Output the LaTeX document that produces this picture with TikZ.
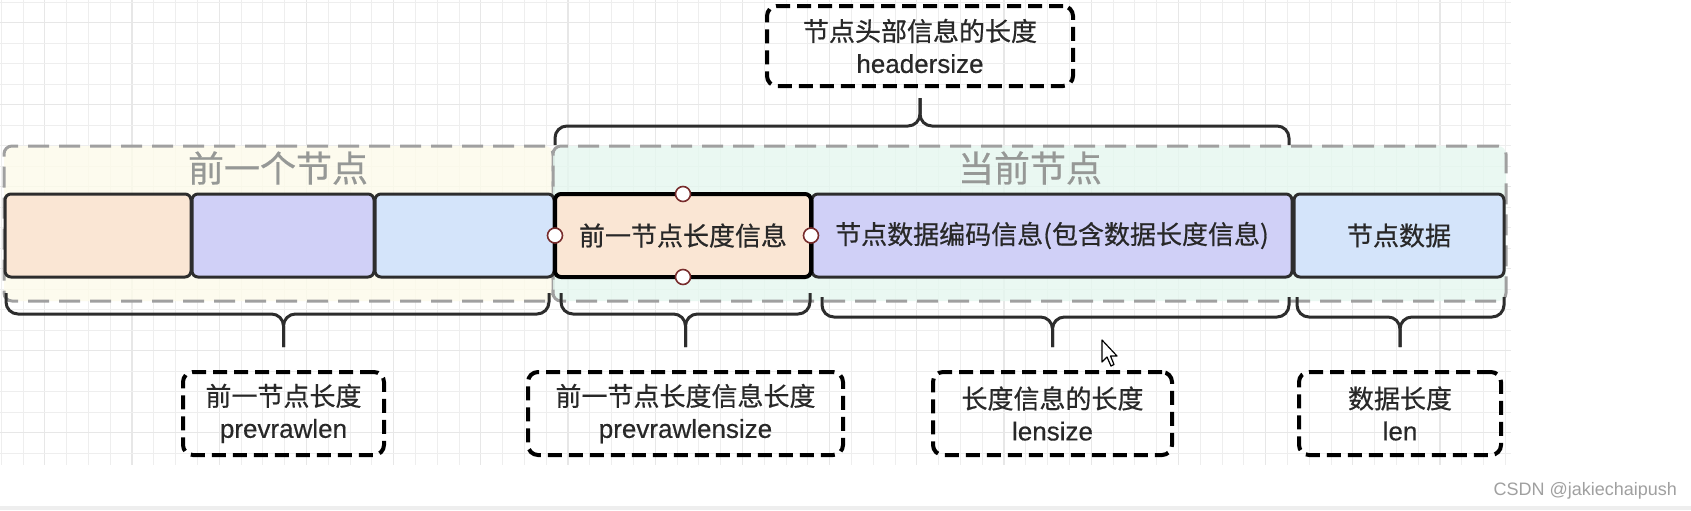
\documentclass[tikz,border=0pt]{standalone}
\usepackage{fontspec}
\setmainfont{Liberation Sans}
\newfontfamily\cjk{Noto Sans CJK SC}
\newfontfamily\cjkb[FakeBold=0.6]{Noto Sans CJK SC}
\newfontfamily\latb[FakeBold=0.4]{Liberation Sans}
\definecolor{gridminor}{RGB}{238,238,238}
\definecolor{gridmajor}{RGB}{231,231,231}
\definecolor{prevbg}{RGB}{253,251,234}
\definecolor{currbg}{RGB}{229,247,239}
\definecolor{groupgray}{RGB}{160,160,160}
\definecolor{titlegray}{RGB}{150,152,150}
\definecolor{peach}{RGB}{250,230,212}
\definecolor{lavender}{RGB}{208,208,247}
\definecolor{skyblue}{RGB}{212,228,250}
\definecolor{boxline}{RGB}{45,45,45}
\definecolor{textdark}{RGB}{40,40,40}
\definecolor{handlered}{RGB}{120,45,45}
\definecolor{wmgray}{RGB}{160,160,160}
\definecolor{stripgray}{RGB}{238,238,238}

\begin{document}
\begin{tikzpicture}[x=0.5pt, y=-0.5pt]
        \tikzstyle{every node}=[inner sep=0pt, outer sep=0pt]
        \tikzstyle{group}=[draw=groupgray, line width=1.5pt, dash pattern=on 10.5pt off 5pt, rounded corners=4pt, fill opacity=0.8, minimum height=77.5pt]
        \tikzstyle{title}=[text=titlegray, font=\cjkb\fontsize{18}{20}\selectfont]
        \tikzstyle{field}=[draw=boxline, line width=1.5pt, rounded corners=3pt, minimum height=41.5pt, text=textdark, font=\cjkb\fontsize{13}{16}\selectfont]
        \tikzstyle{lenbox}=[draw=black, line width=2pt, dash pattern=on 7pt off 3.5pt, rounded corners=5pt, minimum height=41.5pt, align=center, text=textdark, font=\latb\fontsize{13}{16}\selectfont]
        \tikzstyle{brace}=[draw=boxline, line width=1.5pt, rounded corners=6pt]
        \tikzstyle{handle}=[circle, draw=handlered, fill=white, line width=0.8pt, minimum size=7.5pt]
        \useasboundingbox (0,0) rectangle (1691,510);
        \fill[white] (0,0) rectangle (1691,510);
        \fill[stripgray] (0,506) rectangle (1691,510);
        % grid
        \foreach \i in {0,...,69} {
            \pgfmathtruncatemacro{\m}{mod(\i,4)==2}
            \ifnum\m=1 \draw[gridmajor, line width=0.6pt] ({1.2+21.8*\i},0) -- ({1.2+21.8*\i},465);
            \else \draw[gridminor, line width=0.5pt] ({1.2+21.8*\i},0) -- ({1.2+21.8*\i},465); \fi
        }
        \foreach \j in {0,...,22} {
            \pgfmathtruncatemacro{\m}{mod(\j,4)==1}
            \ifnum\m=1 \draw[gridmajor, line width=0.6pt] (0,{2+20.5*\j}) -- (1511,{2+20.5*\j});
            \else \draw[gridminor, line width=0.5pt] (0,{2+20.5*\j}) -- (1511,{2+20.5*\j}); \fi
        }
        % groups
        \node[group, fill=prevbg, minimum width=274.5pt] (prevgrp) at (278.5,223.5) {};
        \node[group, fill=currbg, minimum width=476.5pt] (currgrp) at (1029.5,223.5) {};
        \node[title] (prevtitle) at (278,168) {前一个节点};
        \node[title] (currtitle) at (1030,168) {当前节点};
        % fields
        \node[field, fill=peach, minimum width=93pt] (f1) at (98,235.5) {};
        \node[field, fill=lavender, minimum width=91pt] (f2) at (283,235.5) {};
        \node[field, fill=skyblue, minimum width=89.5pt] (f3) at (464.5,235.5) {};
        \node[field, fill=lavender, minimum width=240pt] (f5) at (1052,235.5) {节点数据编码信息(包含数据长度信息)};
        \node[field, fill=skyblue, minimum width=105pt] (f6) at (1399,235.5) {节点数据};
        \node[field, fill=peach, draw=black, line width=2pt, minimum width=128pt] (f4) at (683,235.5) {前一节点长度信息};
        \node[handle] (hw) at (f4.west) {};
        \node[handle] (he) at (f4.east) {};
        \node[handle] (hn) at (f4.north) {};
        \node[handle] (hs) at (f4.south) {};
        % length boxes
        \node[lenbox, minimum width=153pt, minimum height=40pt] (hdr) at (920,46) {{\cjkb 节点头部信息的长度}\\headersize};
        \node[lenbox, minimum width=100.5pt] (prevlen) at (283.5,413.5) {{\cjkb 前一节点长度}\\prevrawlen};
        \node[lenbox, minimum width=157.5pt] (prevlensize) at (685.5,413.5) {{\cjkb 前一节点长度信息长度}\\prevrawlensize};
        \node[lenbox, minimum width=119.5pt] (lensize) at (1052.5,413.5) {{\cjkb 长度信息的长度}\\lensize};
        \node[lenbox, minimum width=101pt] (len) at (1400,413.5) {{\cjkb 数据长度}\\len};
        % braces
        \draw[brace] (555,145) |- ([yshift=-20pt]hdr.south) -- ([yshift=-6pt]hdr.south);
        \draw[brace] (1289,145) |- ([yshift=-20pt]hdr.south) -- ([yshift=-6pt]hdr.south);
        \draw[brace] (6,293) |- ([yshift=29pt]prevlen.north) -- ([yshift=12.5pt]prevlen.north);
        \draw[brace] (549,293) |- ([yshift=29pt]prevlen.north) -- ([yshift=12.5pt]prevlen.north);
        \draw[brace] (561,293) |- ([yshift=29pt]prevlensize.north) -- ([yshift=12.5pt]prevlensize.north);
        \draw[brace] (810,293) |- ([yshift=29pt]prevlensize.north) -- ([yshift=12.5pt]prevlensize.north);
        \draw[brace] (822,297) |- ([yshift=27.5pt]lensize.north) -- ([yshift=12.5pt]lensize.north);
        \draw[brace] (1289,297) |- ([yshift=27.5pt]lensize.north) -- ([yshift=12.5pt]lensize.north);
        \draw[brace] (1297,297) |- ([yshift=27.5pt]len.north) -- ([yshift=12.5pt]len.north);
        \draw[brace] (1504,297) |- ([yshift=27.5pt]len.north) -- ([yshift=12.5pt]len.north);
        % cursor
        \draw[fill=white, line width=0.6pt, line join=round] (1102,340) -- ++(0,22) -- ++(5,-5) -- ++(4,9) -- ++(3,-1.5) -- ++(-3.5,-8.5) -- ++(6.5,0) -- cycle;
        \node[anchor=east, text=wmgray, font=\fontsize{9}{11}\selectfont] (wm) at (1677,491) {CSDN @jakiechaipush};
    \end{tikzpicture}
\end{document}
